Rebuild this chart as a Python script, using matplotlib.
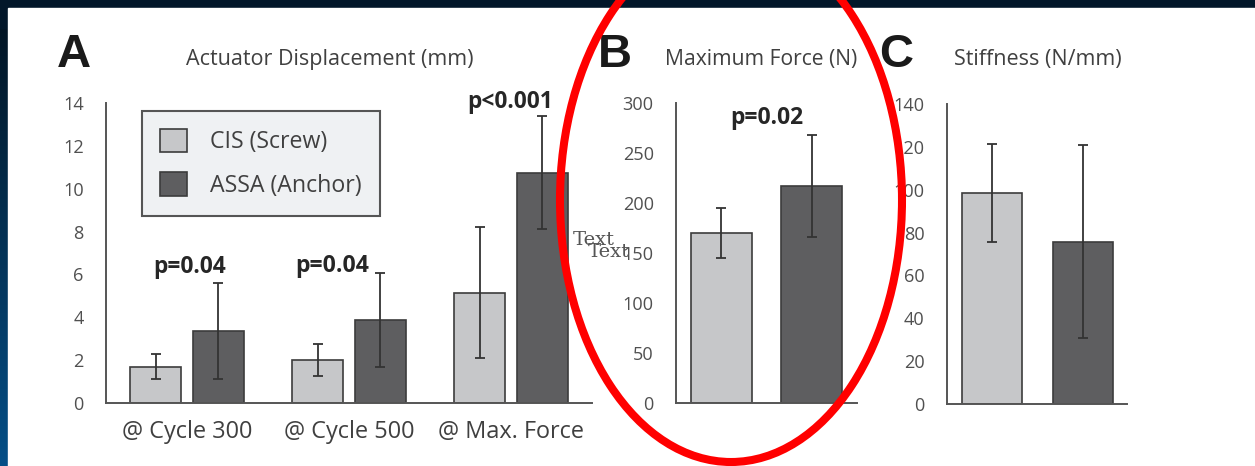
import matplotlib
matplotlib.use('Agg')
import matplotlib.pyplot as plt
import numpy as np
from matplotlib.patches import Ellipse, Rectangle

# ---------------- data ----------------
cat_A = ['@ Cycle 300', '@ Cycle 500', '@ Max. Force']
cis_A = [1.7, 2.0, 5.15]
cis_A_err = [0.57, 0.75, 3.05]
assa_A = [3.35, 3.87, 10.75]
assa_A_err = [2.25, 2.2, 2.65]
p_A = ['p=0.04', 'p=0.04', 'p<0.001']
yticks_A = [0, 2, 4, 6, 8, 10, 12, 14]

cis_B = [170]
cis_B_err = [25]
assa_B = [217]
assa_B_err = [51]
p_B = 'p=0.02'
yticks_B = [0, 50, 100, 150, 200, 250, 300]

cis_C = [98.5]
cis_C_err = [23]
assa_C = [75.8]
assa_C_err = [45]
yticks_C = [0, 20, 40, 60, 80, 100, 120, 140]

series_names = ['CIS (Screw)', 'ASSA (Anchor)']

# ---------------- style ----------------
W, H = 1255, 466
LIGHT = '#c6c7c9'
DARK = '#5e5e60'
EDGE = '#3c3c3c'
ERRC = '#333333'
TICKC = '#505050'
LABC = '#404040'
FONT = 'Open Sans'

fig = plt.figure(figsize=(W / 100, H / 100), dpi=100)
R = fig.canvas.get_renderer()


def fit(artist, target):
    w = artist.get_window_extent(R).width
    artist.set_fontsize(artist.get_fontsize() * target / w)


def fitted_size(s, target, size=13, **kw):
    tt = fig.text(0, 0, s, fontsize=size, family=FONT, **kw)
    w = tt.get_window_extent(R).width
    tt.remove()
    return size * target / w


# background: dark gradient frame + white panel
bg = fig.add_axes([0, 0, 1, 1], zorder=-10)
bg.axis('off')
top = np.array([0.01, 0.07, 0.12])
bot = np.array([0.02, 0.31, 0.53])
t = np.linspace(0, 1, 200)[:, None]
grad = (top[None, :] * (1 - t) + bot[None, :] * t)[:, None, :]
bg.imshow(grad, aspect='auto', extent=[0, 1, 0, 1], origin='upper')
bg.set_xlim(0, 1); bg.set_ylim(0, 1)
bg.add_patch(Rectangle((0, 0.94), 1, 0.06, color='#02172a', transform=bg.transAxes))
bg.add_patch(Rectangle((8 / W, 0), 1 - 8 / W, 1 - 8 / H, color='white', transform=bg.transAxes))


def px_axes(x0, x1, ytop, ybot):
    return fig.add_axes([x0 / W, 1 - ybot / H, (x1 - x0) / W, (ybot - ytop) / H])


ytick_size = fitted_size('300', 31)
xtick_size = fitted_size('@ Cycle 300', 130)
leg_size = fitted_size('ASSA (Anchor)', 151)


def style(ax, yt, ylim):
    ax.set_ylim(*ylim)
    ax.set_yticks(yt)
    for s in ['top', 'right']:
        ax.spines[s].set_visible(False)
    for s in ['left', 'bottom']:
        ax.spines[s].set_color('#555555')
        ax.spines[s].set_linewidth(1.4)
    ax.tick_params(axis='y', length=0, pad=16, labelsize=ytick_size, labelcolor=TICKC)
    ax.tick_params(axis='x', length=0, pad=12, labelsize=xtick_size, labelcolor=LABC)
    for lab in ax.get_yticklabels() + ax.get_xticklabels():
        lab.set_fontfamily(FONT)
    ax.patch.set_alpha(0)


ekw = dict(ecolor=ERRC, elinewidth=1.3, capsize=3.3, capthick=1.3)
PKW = dict(va='baseline', ha='center', fontweight='bold', color='#262626', family=FONT, fontsize=13)

# ---------------- panel A ----------------
axA = px_axes(106, 592, 103, 403)
x = np.arange(len(cat_A))
off, bw = 0.194, 0.31
axA.bar(x - off, cis_A, bw, yerr=cis_A_err, color=LIGHT, edgecolor=EDGE,
        linewidth=1.2, error_kw=ekw, label=series_names[0])
axA.bar(x + off, assa_A, bw, yerr=assa_A_err, color=DARK, edgecolor=EDGE,
        linewidth=1.2, error_kw=ekw, label=series_names[1])
axA.set_xlim(-0.5, 2.5)
axA.set_xticks(x)
axA.set_xticklabels(cat_A)
style(axA, yticks_A, (0, 14))
p_pos_A = [(0.015, 6.07), (0.895, 6.1), (1.997, 13.77)]
p_w_A = [72, 73, 85]
for (px, py), s, tw in zip(p_pos_A, p_A, p_w_A):
    tt = axA.text(px, py, s, **PKW)
    fit(tt, tw)

# legend
fs_px = leg_size * 100 / 72
leg = axA.legend(loc='upper left', bbox_to_anchor=(142 / W, 1 - 111 / H),
                 bbox_transform=fig.transFigure, fancybox=False, frameon=True,
                 prop={'family': FONT, 'size': leg_size},
                 handlelength=27 / fs_px, handleheight=27 / fs_px,
                 handletextpad=23 / fs_px, labelspacing=18 / fs_px,
                 borderpad=18 / fs_px, borderaxespad=0)
leg.get_frame().set_facecolor('#eff1f3')
leg.get_frame().set_edgecolor('#555555')
leg.get_frame().set_linewidth(1.5)
leg.get_frame().set_alpha(1)
for txt in leg.get_texts():
    txt.set_color(LABC)

# ---------------- panel B ----------------
axB = px_axes(676, 857, 103, 403)
axB.bar([0], cis_B, 0.67, yerr=cis_B_err, color=LIGHT, edgecolor=EDGE, linewidth=1.2, error_kw=ekw)
axB.bar([1], assa_B, 0.67, yerr=assa_B_err, color=DARK, edgecolor=EDGE, linewidth=1.2, error_kw=ekw)
axB.set_xlim(-0.5, 1.5)
axB.set_xticks([])
style(axB, yticks_B, (0, 300))
tt = axB.text(0.5, 279, p_B, **PKW)
fit(tt, 73)

# ---------------- panel C ----------------
axC = px_axes(947, 1127, 104, 404)
axC.bar([0], cis_C, 0.66, yerr=cis_C_err, color=LIGHT, edgecolor=EDGE, linewidth=1.2, error_kw=ekw)
axC.bar([1], assa_C, 0.66, yerr=assa_C_err, color=DARK, edgecolor=EDGE, linewidth=1.2, error_kw=ekw)
axC.set_xlim(-0.49, 1.48)
axC.set_xticks([])
style(axC, yticks_C, (0, 140))

# ---------------- titles ----------------
def ftext(xp, yp, s, **kw):
    return fig.text(xp / W, 1 - yp / H, s, **kw)

for xp, s in [(57, 'A'), (598, 'B'), (879, 'C')]:
    ftext(xp, 67, s, fontsize=34, fontweight='bold', family='Liberation Sans',
          color='#1a1a1a', ha='left', va='baseline')
for xp, s, tw in [(330, 'Actuator Displacement (mm)', 285), (761, 'Maximum Force (N)', 192),
                  (1038, 'Stiffness (N/mm)', 167)]:
    tt = ftext(xp, 65, s, fontsize=13, family=FONT, color=LABC, ha='center', va='baseline')
    fit(tt, tw)

# stray "Text" labels
ftext(573, 245, 'Text', fontsize=14, family='DejaVu Serif', color='#555555', ha='left', va='baseline')
ftext(588, 257, 'Text', fontsize=14, family='DejaVu Serif', color='#555555', ha='left', va='baseline')

# red ellipse
ell = Ellipse((731 / W, 1 - 200 / H), 2 * 171 / W, 2 * 262 / H, transform=fig.transFigure,
              fill=False, edgecolor='#ff0000', linewidth=5.8, zorder=50)
fig.add_artist(ell)

fig.savefig('out.png', dpi=100)
